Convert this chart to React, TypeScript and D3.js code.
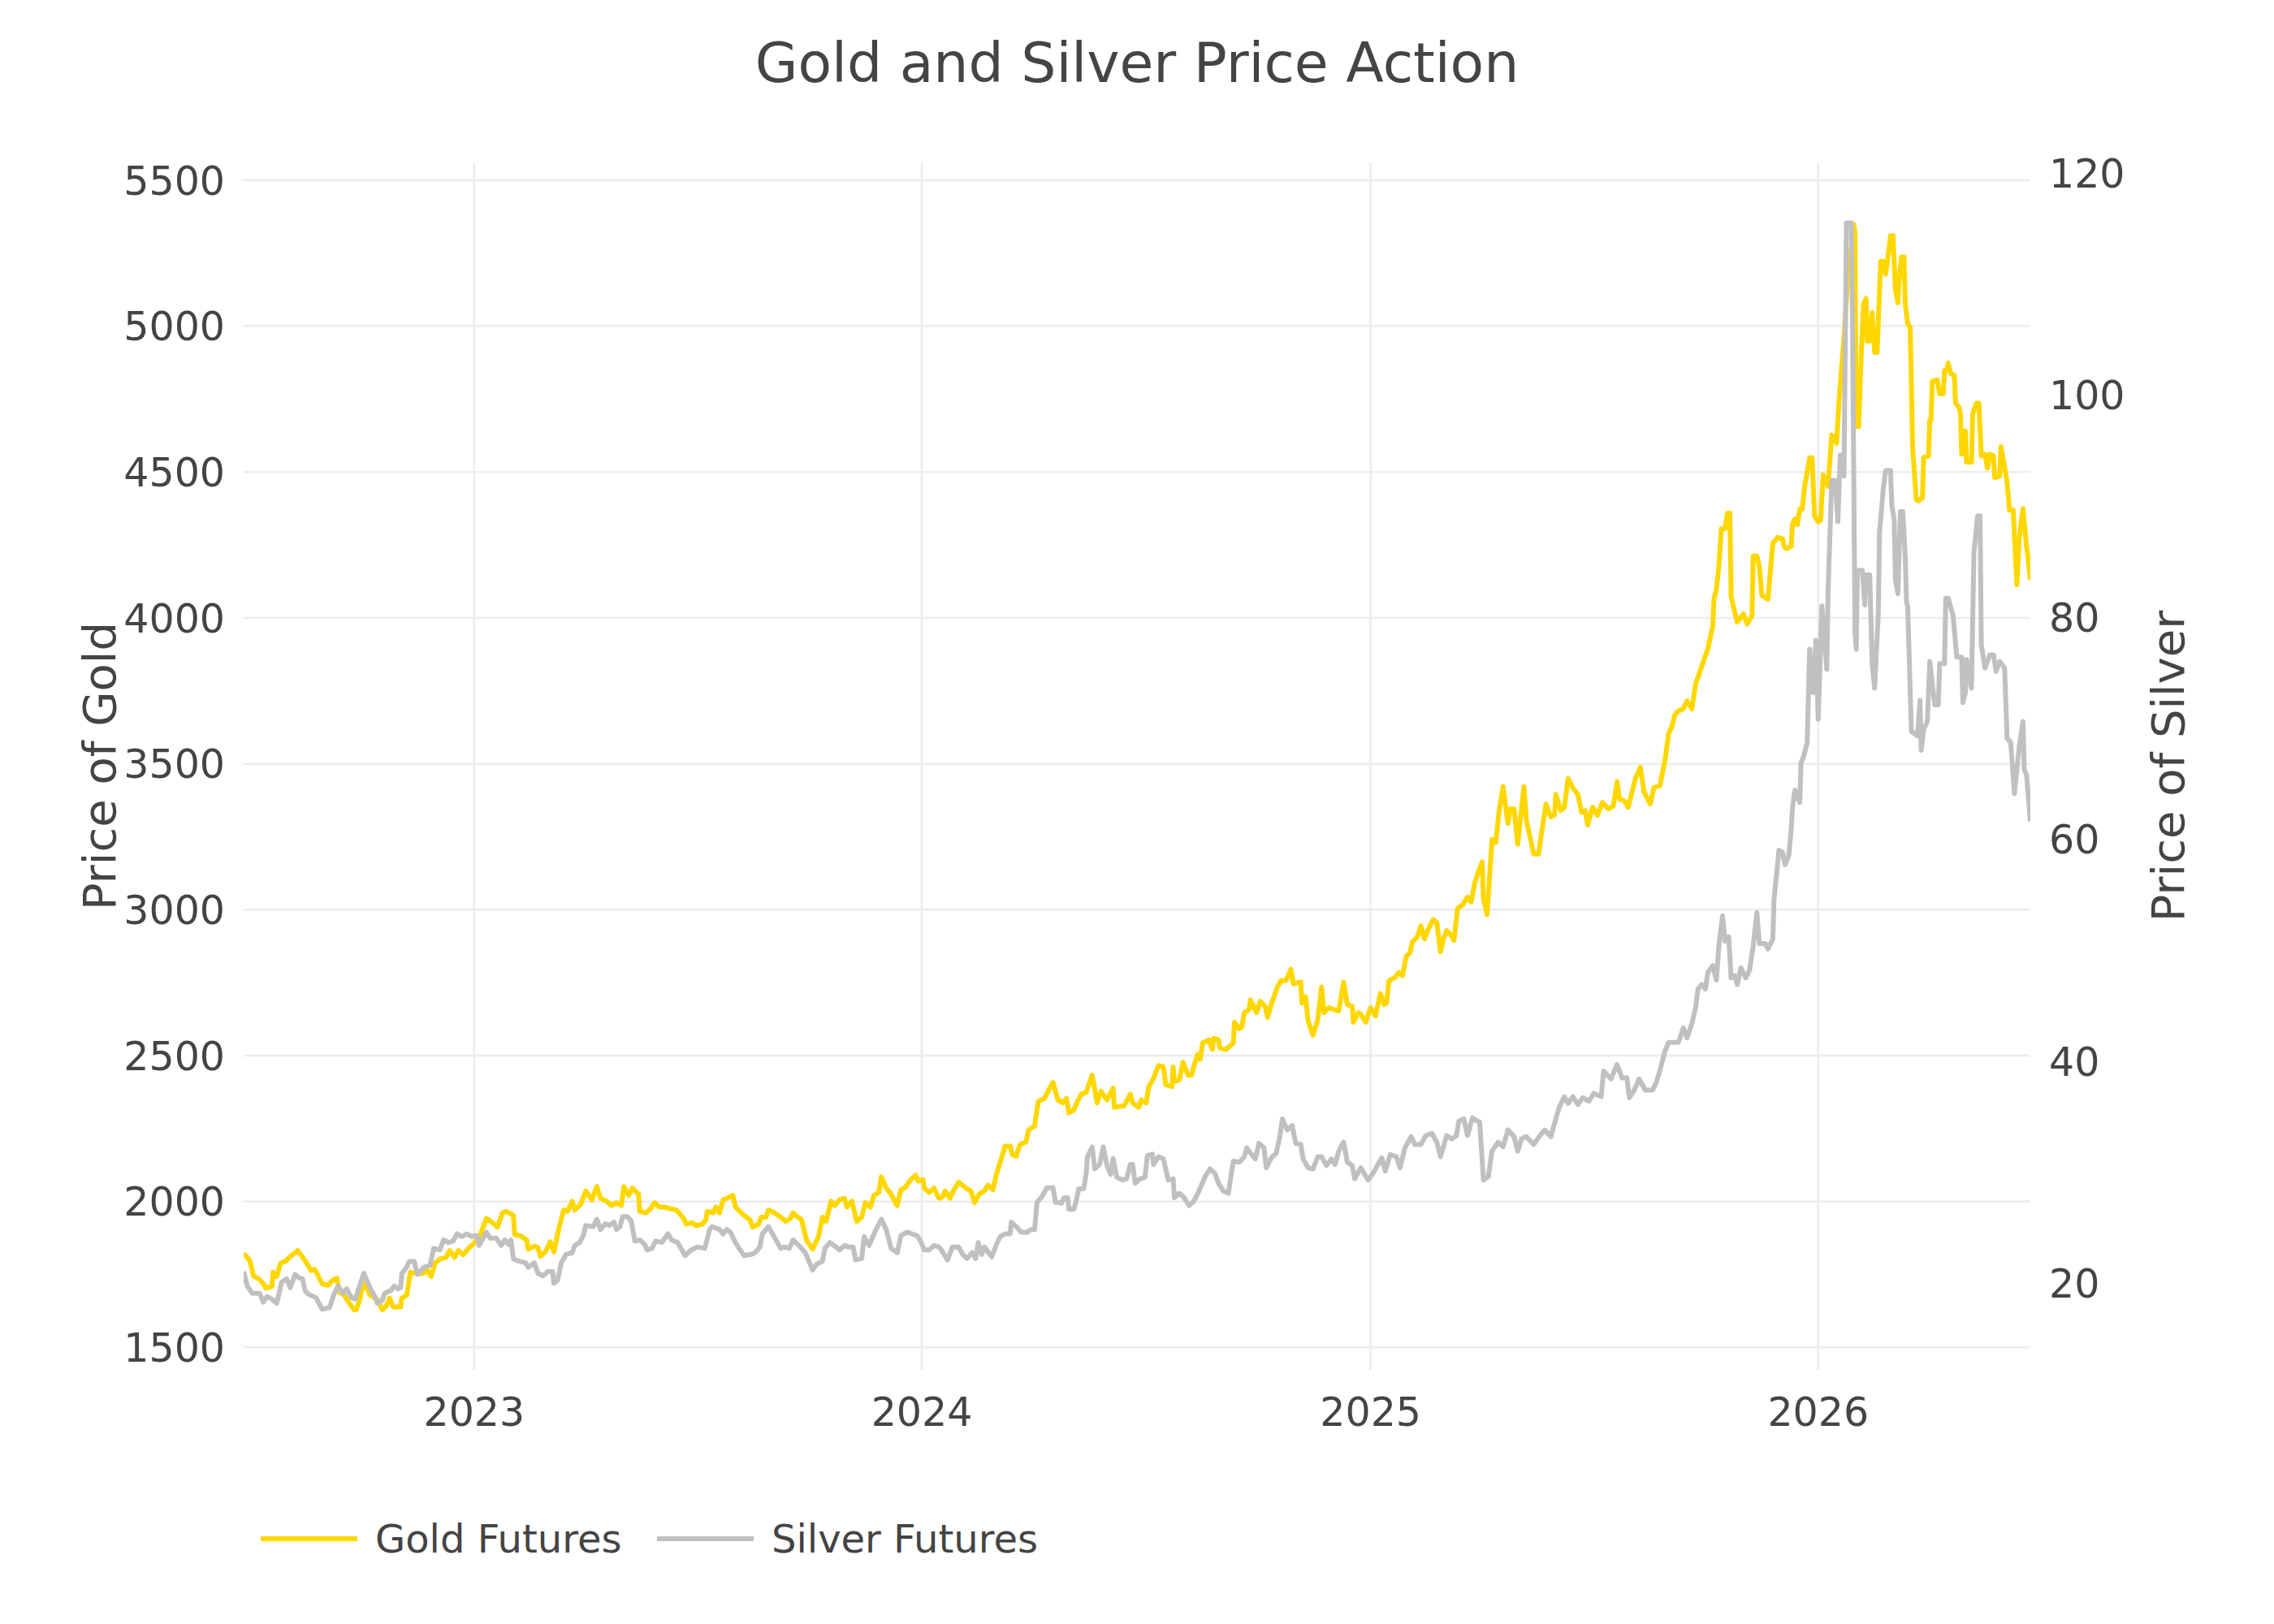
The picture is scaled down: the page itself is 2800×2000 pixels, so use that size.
import * as d3 from "d3";
import { useEffect } from "react";

const GOLD: [string, number][] = [
  ["2022-06-27", 1822], ["2022-07-02", 1798], ["2022-07-05", 1745], ["2022-07-10", 1733],
  ["2022-07-14", 1713], ["2022-07-15", 1703], ["2022-07-20", 1708], ["2022-07-21", 1758],
  ["2022-07-24", 1743], ["2022-07-27", 1788], ["2022-08-01", 1798], ["2022-08-03", 1808],
  ["2022-08-06", 1818], ["2022-08-10", 1832], ["2022-08-16", 1798], ["2022-08-21", 1763],
  ["2022-08-24", 1768], ["2022-08-27", 1743], ["2022-08-30", 1718], ["2022-09-04", 1713],
  ["2022-09-07", 1728], ["2022-09-11", 1738], ["2022-09-13", 1689], ["2022-09-17", 1679],
  ["2022-09-20", 1659], ["2022-09-25", 1629], ["2022-09-27", 1629], ["2022-09-30", 1669],
  ["2022-10-03", 1728], ["2022-10-08", 1679], ["2022-10-14", 1664], ["2022-10-18", 1629],
  ["2022-10-21", 1639], ["2022-10-24", 1669], ["2022-10-27", 1639], ["2022-11-02", 1639],
  ["2022-11-03", 1669], ["2022-11-07", 1679], ["2022-11-10", 1758], ["2022-11-15", 1753],
  ["2022-11-20", 1753], ["2022-11-24", 1763], ["2022-11-27", 1743], ["2022-11-30", 1788],
  ["2022-12-04", 1803], ["2022-12-09", 1808], ["2022-12-12", 1832], ["2022-12-16", 1808],
  ["2022-12-19", 1832], ["2022-12-23", 1818], ["2022-12-28", 1842], ["2023-01-01", 1857],
  ["2023-01-06", 1887], ["2023-01-11", 1942], ["2023-01-16", 1927], ["2023-01-20", 1912],
  ["2023-01-24", 1961], ["2023-01-27", 1966], ["2023-02-02", 1952], ["2023-02-03", 1887],
  ["2023-02-08", 1882], ["2023-02-13", 1867], ["2023-02-14", 1837], ["2023-02-19", 1847],
  ["2023-02-22", 1842], ["2023-02-24", 1812], ["2023-02-28", 1827], ["2023-03-04", 1862],
  ["2023-03-07", 1827], ["2023-03-11", 1907], ["2023-03-15", 1971], ["2023-03-18", 1966],
  ["2023-03-22", 2001], ["2023-03-24", 1971], ["2023-03-29", 1991], ["2023-04-02", 2036],
  ["2023-04-07", 2006], ["2023-04-11", 2051], ["2023-04-14", 2011], ["2023-04-19", 2001],
  ["2023-04-23", 1986], ["2023-04-27", 1996], ["2023-05-01", 1986], ["2023-05-03", 2051],
  ["2023-05-07", 2021], ["2023-05-10", 2046], ["2023-05-15", 2026], ["2023-05-16", 1966],
  ["2023-05-21", 1961], ["2023-05-25", 1976], ["2023-05-28", 1996], ["2023-06-01", 1981],
  ["2023-06-05", 1981], ["2023-06-09", 1976], ["2023-06-15", 1971], ["2023-06-21", 1941],
  ["2023-06-23", 1922], ["2023-06-28", 1927], ["2023-07-01", 1917], ["2023-07-06", 1922],
  ["2023-07-09", 1937], ["2023-07-10", 1966], ["2023-07-15", 1961], ["2023-07-17", 1981],
  ["2023-07-20", 1961], ["2023-07-23", 2006], ["2023-07-26", 2011], ["2023-07-31", 2021],
  ["2023-08-02", 1981], ["2023-08-08", 1956], ["2023-08-14", 1937], ["2023-08-16", 1912],
  ["2023-08-21", 1922], ["2023-08-23", 1946], ["2023-08-27", 1946], ["2023-08-29", 1971],
  ["2023-09-03", 1961], ["2023-09-08", 1946], ["2023-09-12", 1932], ["2023-09-16", 1942],
  ["2023-09-18", 1961], ["2023-09-22", 1946], ["2023-09-25", 1937], ["2023-09-29", 1867],
  ["2023-10-04", 1837], ["2023-10-09", 1882], ["2023-10-12", 1946], ["2023-10-15", 1932],
  ["2023-10-19", 2001], ["2023-10-22", 1986], ["2023-10-26", 2006], ["2023-10-30", 2011],
  ["2023-11-01", 1981], ["2023-11-05", 2001], ["2023-11-09", 1932], ["2023-11-13", 1946],
  ["2023-11-16", 1996], ["2023-11-20", 1981], ["2023-11-23", 2021], ["2023-11-27", 2031],
  ["2023-11-29", 2085], ["2023-12-03", 2046], ["2023-12-06", 2031], ["2023-12-12", 1986],
  ["2023-12-15", 2041], ["2023-12-18", 2046], ["2023-12-23", 2075], ["2023-12-27", 2090],
  ["2023-12-29", 2070], ["2024-01-02", 2075], ["2024-01-03", 2046], ["2024-01-07", 2031],
  ["2024-01-11", 2046], ["2024-01-15", 2011], ["2024-01-18", 2016], ["2024-01-20", 2036],
  ["2024-01-24", 2011], ["2024-01-26", 2031], ["2024-01-31", 2066], ["2024-02-06", 2046],
  ["2024-02-10", 2036], ["2024-02-13", 1996], ["2024-02-17", 2026], ["2024-02-21", 2036],
  ["2024-02-24", 2056], ["2024-02-28", 2041], ["2024-03-02", 2095], ["2024-03-05", 2135],
  ["2024-03-09", 2190], ["2024-03-13", 2190], ["2024-03-15", 2160], ["2024-03-18", 2155],
  ["2024-03-21", 2195], ["2024-03-26", 2204], ["2024-03-28", 2244], ["2024-04-02", 2259],
  ["2024-04-05", 2343], ["2024-04-10", 2353], ["2024-04-13", 2378], ["2024-04-17", 2408],
  ["2024-04-21", 2348], ["2024-04-25", 2338], ["2024-04-28", 2353], ["2024-04-30", 2304],
  ["2024-05-04", 2314], ["2024-05-07", 2343], ["2024-05-10", 2368], ["2024-05-14", 2373],
  ["2024-05-19", 2433], ["2024-05-23", 2338], ["2024-05-26", 2378], ["2024-05-31", 2348],
  ["2024-06-05", 2388], ["2024-06-06", 2323], ["2024-06-14", 2328], ["2024-06-19", 2368],
  ["2024-06-21", 2338], ["2024-06-26", 2323], ["2024-06-28", 2348], ["2024-07-02", 2338],
  ["2024-07-04", 2392], ["2024-07-08", 2422], ["2024-07-12", 2466], ["2024-07-16", 2461],
  ["2024-07-18", 2400], ["2024-07-23", 2394], ["2024-07-24", 2461], ["2024-07-25", 2411],
  ["2024-07-29", 2417], ["2024-08-01", 2477], ["2024-08-05", 2433], ["2024-08-08", 2433],
  ["2024-08-10", 2466], ["2024-08-13", 2504], ["2024-08-15", 2488], ["2024-08-17", 2543],
  ["2024-08-22", 2554], ["2024-08-25", 2521], ["2024-08-26", 2559], ["2024-08-30", 2554],
  ["2024-08-31", 2526], ["2024-09-05", 2521], ["2024-09-08", 2532], ["2024-09-11", 2543],
  ["2024-09-12", 2614], ["2024-09-16", 2592], ["2024-09-18", 2598], ["2024-09-20", 2647],
  ["2024-09-24", 2658], ["2024-09-25", 2691], ["2024-09-30", 2647], ["2024-10-03", 2686],
  ["2024-10-07", 2669], ["2024-10-09", 2631], ["2024-10-12", 2675], ["2024-10-17", 2735],
  ["2024-10-20", 2757], ["2024-10-24", 2757], ["2024-10-28", 2796], ["2024-10-30", 2746],
  ["2024-11-05", 2752], ["2024-11-06", 2680], ["2024-11-09", 2702], ["2024-11-11", 2620],
  ["2024-11-15", 2570], ["2024-11-19", 2625], ["2024-11-22", 2735], ["2024-11-24", 2647],
  ["2024-11-28", 2664], ["2024-12-02", 2658], ["2024-12-06", 2653], ["2024-12-10", 2752],
  ["2024-12-13", 2675], ["2024-12-17", 2669], ["2024-12-18", 2614], ["2024-12-22", 2647],
  ["2024-12-24", 2642], ["2024-12-28", 2614], ["2025-01-01", 2664], ["2025-01-05", 2636],
  ["2025-01-09", 2713], ["2025-01-12", 2675], ["2025-01-14", 2680], ["2025-01-16", 2757],
  ["2025-01-21", 2768], ["2025-01-24", 2785], ["2025-01-27", 2774], ["2025-01-30", 2840],
  ["2025-02-02", 2851], ["2025-02-04", 2889], ["2025-02-08", 2906], ["2025-02-11", 2944],
  ["2025-02-14", 2900], ["2025-02-17", 2933], ["2025-02-21", 2966], ["2025-02-24", 2955],
  ["2025-02-27", 2856], ["2025-03-01", 2895], ["2025-03-04", 2928], ["2025-03-08", 2911],
  ["2025-03-10", 2895], ["2025-03-13", 3005], ["2025-03-17", 3016], ["2025-03-21", 3043],
  ["2025-03-24", 3027], ["2025-03-27", 3093], ["2025-03-30", 3131], ["2025-04-02", 3164],
  ["2025-04-03", 3038], ["2025-04-06", 2983], ["2025-04-10", 3241], ["2025-04-13", 3230],
  ["2025-04-16", 3345], ["2025-04-19", 3422], ["2025-04-23", 3296], ["2025-04-25", 3345],
  ["2025-04-28", 3345], ["2025-05-01", 3224], ["2025-05-06", 3422], ["2025-05-08", 3307],
  ["2025-05-14", 3191], ["2025-05-18", 3191], ["2025-05-20", 3252], ["2025-05-24", 3362],
  ["2025-05-28", 3318], ["2025-05-31", 3324], ["2025-06-01", 3395], ["2025-06-05", 3340],
  ["2025-06-08", 3351], ["2025-06-11", 3450], ["2025-06-15", 3417], ["2025-06-19", 3395],
  ["2025-06-22", 3334], ["2025-06-25", 3340], ["2025-06-27", 3290], ["2025-07-01", 3351],
  ["2025-07-05", 3324], ["2025-07-09", 3367], ["2025-07-14", 3345], ["2025-07-18", 3356],
  ["2025-07-21", 3439], ["2025-07-23", 3379], ["2025-07-27", 3373], ["2025-07-30", 3351],
  ["2025-08-02", 3400], ["2025-08-05", 3450], ["2025-08-09", 3488], ["2025-08-12", 3404],
  ["2025-08-17", 3362], ["2025-08-20", 3418], ["2025-08-25", 3426], ["2025-08-29", 3511],
  ["2025-09-01", 3603], ["2025-09-04", 3631], ["2025-09-06", 3667], ["2025-09-09", 3681],
  ["2025-09-13", 3688], ["2025-09-16", 3716], ["2025-09-20", 3688], ["2025-09-23", 3773],
  ["2025-09-26", 3809], ["2025-09-30", 3858], ["2025-10-03", 3894], ["2025-10-07", 3972],
  ["2025-10-08", 4064], ["2025-10-10", 4100], ["2025-10-12", 4178], ["2025-10-14", 4305],
  ["2025-10-17", 4305], ["2025-10-19", 4359], ["2025-10-21", 4359], ["2025-10-22", 4071],
  ["2025-10-27", 3986], ["2025-11-01", 4014], ["2025-11-04", 3979], ["2025-11-08", 4007],
  ["2025-11-09", 4212], ["2025-11-12", 4212], ["2025-11-14", 4178], ["2025-11-16", 4078],
  ["2025-11-21", 4064], ["2025-11-25", 4256], ["2025-11-29", 4276], ["2025-12-03", 4271],
  ["2025-12-04", 4246], ["2025-12-06", 4237], ["2025-12-10", 4246], ["2025-12-11", 4324],
  ["2025-12-13", 4339], ["2025-12-15", 4320], ["2025-12-17", 4373], ["2025-12-19", 4373],
  ["2025-12-21", 4451], ["2025-12-25", 4549], ["2025-12-27", 4549], ["2025-12-29", 4349],
  ["2026-01-01", 4329], ["2026-01-03", 4334], ["2026-01-05", 4490], ["2026-01-09", 4451],
  ["2026-01-12", 4627], ["2026-01-16", 4598], ["2026-01-18", 4744], ["2026-01-22", 4959],
  ["2026-01-25", 5154], ["2026-01-30", 5349], ["2026-01-31", 5320], ["2026-02-01", 4656],
  ["2026-02-03", 4656], ["2026-02-05", 4890], ["2026-02-07", 5076], ["2026-02-09", 5095],
  ["2026-02-10", 4949], ["2026-02-12", 4949], ["2026-02-14", 5046], ["2026-02-16", 4910],
  ["2026-02-18", 4910], ["2026-02-21", 5222], ["2026-02-23", 5222], ["2026-02-25", 5178],
  ["2026-02-27", 5241], ["2026-03-01", 5310], ["2026-03-03", 5310], ["2026-03-05", 5124],
  ["2026-03-07", 5080], ["2026-03-08", 5158], ["2026-03-10", 5237], ["2026-03-12", 5237],
  ["2026-03-13", 5076], ["2026-03-15", 5007], ["2026-03-17", 4997], ["2026-03-18", 4795],
  ["2026-03-19", 4582], ["2026-03-22", 4406], ["2026-03-24", 4401], ["2026-03-27", 4412],
  ["2026-03-28", 4550], ["2026-04-01", 4555], ["2026-04-02", 4678], ["2026-04-03", 4678],
  ["2026-04-04", 4811], ["2026-04-08", 4816], ["2026-04-10", 4768], ["2026-04-13", 4768],
  ["2026-04-14", 4848], ["2026-04-16", 4848], ["2026-04-17", 4874], ["2026-04-19", 4837],
  ["2026-04-22", 4832], ["2026-04-23", 4736], ["2026-04-26", 4720], ["2026-04-27", 4699],
  ["2026-04-28", 4561], ["2026-05-01", 4641], ["2026-05-02", 4534], ["2026-05-06", 4534],
  ["2026-05-07", 4699], ["2026-05-10", 4736], ["2026-05-12", 4736], ["2026-05-14", 4555],
  ["2026-05-17", 4561], ["2026-05-19", 4513], ["2026-05-21", 4561], ["2026-05-24", 4555],
  ["2026-05-25", 4481], ["2026-05-29", 4486], ["2026-05-30", 4587], ["2026-06-02", 4518],
  ["2026-06-04", 4465], ["2026-06-06", 4369], ["2026-06-09", 4369], ["2026-06-12", 4114],
  ["2026-06-14", 4274], ["2026-06-17", 4375], ["2026-06-20", 4241], ["2026-06-21", 4210],
  ["2026-06-23", 4130],
];

const SILVER: [string, number][] = [
  ["2022-06-27", 21.05], ["2022-06-30", 19.75], ["2022-07-04", 19.1], ["2022-07-10", 19.1],
  ["2022-07-13", 18.3], ["2022-07-16", 18.8], ["2022-07-20", 18.57], ["2022-07-24", 18.2],
  ["2022-07-28", 20.1], ["2022-08-01", 20.4], ["2022-08-04", 19.6], ["2022-08-08", 20.8],
  ["2022-08-11", 20.5], ["2022-08-14", 20.4], ["2022-08-16", 19.35], ["2022-08-19", 19.0],
  ["2022-08-25", 18.7], ["2022-08-30", 17.66], ["2022-09-05", 17.8], ["2022-09-09", 19.1],
  ["2022-09-12", 19.75], ["2022-09-16", 19.1], ["2022-09-19", 19.5], ["2022-09-23", 18.7],
  ["2022-09-26", 18.57], ["2022-09-30", 19.9], ["2022-10-03", 20.9], ["2022-10-08", 19.6],
  ["2022-10-12", 18.8], ["2022-10-14", 18.2], ["2022-10-18", 18.45], ["2022-10-20", 19.1],
  ["2022-10-25", 19.35], ["2022-10-28", 19.75], ["2022-10-31", 19.5], ["2022-11-02", 19.6],
  ["2022-11-03", 20.9], ["2022-11-07", 21.45], ["2022-11-09", 21.97], ["2022-11-13", 21.97],
  ["2022-11-16", 20.8], ["2022-11-21", 21.45], ["2022-11-26", 21.6], ["2022-11-29", 23.14],
  ["2022-12-04", 23.0], ["2022-12-07", 23.9], ["2022-12-11", 23.67], ["2022-12-15", 23.8],
  ["2022-12-18", 24.45], ["2022-12-22", 24.2], ["2022-12-26", 24.45], ["2022-12-30", 24.2],
  ["2023-01-03", 24.3], ["2023-01-05", 23.4], ["2023-01-11", 24.6], ["2023-01-14", 24.06],
  ["2023-01-19", 24.06], ["2023-01-23", 23.4], ["2023-01-26", 23.9], ["2023-01-29", 23.5],
  ["2023-01-31", 23.9], ["2023-02-02", 22.2], ["2023-02-07", 21.97], ["2023-02-12", 21.84],
  ["2023-02-14", 21.45], ["2023-02-19", 21.84], ["2023-02-22", 20.9], ["2023-02-26", 20.66],
  ["2023-03-02", 21.05], ["2023-03-06", 21.05], ["2023-03-07", 20.0], ["2023-03-10", 20.27],
  ["2023-03-13", 21.84], ["2023-03-17", 22.6], ["2023-03-22", 22.75], ["2023-03-24", 23.4],
  ["2023-03-28", 23.67], ["2023-03-31", 24.3], ["2023-04-02", 25.2], ["2023-04-08", 25.1],
  ["2023-04-11", 25.76], ["2023-04-14", 24.84], ["2023-04-18", 25.36], ["2023-04-21", 25.2],
  ["2023-04-25", 25.5], ["2023-04-27", 24.84], ["2023-04-30", 25.1], ["2023-05-02", 26.0],
  ["2023-05-06", 26.0], ["2023-05-09", 25.6], ["2023-05-12", 23.8], ["2023-05-16", 23.9],
  ["2023-05-20", 23.5], ["2023-05-22", 23.0], ["2023-05-26", 23.14], ["2023-05-29", 23.8],
  ["2023-06-03", 23.67], ["2023-06-08", 24.45], ["2023-06-11", 23.9], ["2023-06-16", 23.67],
  ["2023-06-20", 22.88], ["2023-06-22", 22.5], ["2023-06-27", 23.0], ["2023-07-02", 23.27],
  ["2023-07-08", 23.14], ["2023-07-12", 24.84], ["2023-07-14", 25.1], ["2023-07-20", 24.84],
  ["2023-07-23", 24.45], ["2023-07-26", 24.84], ["2023-07-29", 24.6], ["2023-08-02", 23.67],
  ["2023-08-05", 23.14], ["2023-08-09", 22.5], ["2023-08-15", 22.6], ["2023-08-18", 22.75],
  ["2023-08-22", 23.27], ["2023-08-24", 24.45], ["2023-08-29", 25.1], ["2023-09-02", 24.3],
  ["2023-09-08", 23.14], ["2023-09-11", 23.27], ["2023-09-15", 23.14], ["2023-09-18", 23.9],
  ["2023-09-24", 23.27], ["2023-09-28", 22.75], ["2023-10-04", 21.19], ["2023-10-07", 21.7],
  ["2023-10-12", 21.97], ["2023-10-14", 23.14], ["2023-10-18", 23.67], ["2023-10-23", 23.27],
  ["2023-10-26", 23.0], ["2023-10-30", 23.4], ["2023-11-02", 23.27], ["2023-11-06", 23.27],
  ["2023-11-08", 22.1], ["2023-11-13", 22.23], ["2023-11-15", 24.2], ["2023-11-19", 23.4],
  ["2023-11-23", 24.45], ["2023-11-29", 25.76], ["2023-12-03", 24.84], ["2023-12-07", 23.14],
  ["2023-12-12", 22.75], ["2023-12-15", 24.3], ["2023-12-20", 24.6], ["2023-12-24", 24.45],
  ["2023-12-28", 24.3], ["2023-12-31", 23.8], ["2024-01-03", 23.0], ["2024-01-07", 23.0],
  ["2024-01-11", 23.4], ["2024-01-15", 23.27], ["2024-01-17", 23.0], ["2024-01-22", 22.1],
  ["2024-01-26", 23.27], ["2024-01-31", 23.27], ["2024-02-04", 22.5], ["2024-02-07", 22.23],
  ["2024-02-11", 22.75], ["2024-02-14", 22.23], ["2024-02-16", 23.67], ["2024-02-19", 22.6],
  ["2024-02-21", 23.27], ["2024-02-27", 22.36], ["2024-03-02", 23.54], ["2024-03-05", 24.2],
  ["2024-03-09", 24.45], ["2024-03-13", 24.45], ["2024-03-14", 25.5], ["2024-03-18", 25.1],
  ["2024-03-22", 24.6], ["2024-03-27", 24.6], ["2024-03-30", 24.84], ["2024-04-02", 24.84],
  ["2024-04-04", 27.3], ["2024-04-08", 27.8], ["2024-04-12", 28.6], ["2024-04-17", 28.6],
  ["2024-04-19", 27.3], ["2024-04-24", 27.2], ["2024-04-26", 27.7], ["2024-04-29", 27.7],
  ["2024-04-30", 26.67], ["2024-05-04", 26.67], ["2024-05-06", 27.45], ["2024-05-08", 28.5],
  ["2024-05-12", 28.5], ["2024-05-14", 29.8], ["2024-05-15", 31.37], ["2024-05-19", 32.28],
  ["2024-05-21", 30.3], ["2024-05-25", 30.7], ["2024-05-28", 32.28], ["2024-05-31", 30.6],
  ["2024-06-03", 29.8], ["2024-06-05", 31.24], ["2024-06-08", 29.54], ["2024-06-13", 29.3],
  ["2024-06-16", 29.4], ["2024-06-19", 30.7], ["2024-06-21", 30.7], ["2024-06-23", 29.0],
  ["2024-06-27", 29.4], ["2024-07-01", 29.54], ["2024-07-03", 31.5], ["2024-07-07", 31.63],
  ["2024-07-08", 30.7], ["2024-07-12", 31.4], ["2024-07-16", 31.2], ["2024-07-20", 29.3],
  ["2024-07-24", 29.4], ["2024-07-25", 27.7], ["2024-07-29", 28.1], ["2024-08-02", 27.7],
  ["2024-08-06", 27.0], ["2024-08-10", 27.4], ["2024-08-14", 28.3], ["2024-08-19", 29.6],
  ["2024-08-23", 30.3], ["2024-08-27", 29.9], ["2024-08-30", 29.0], ["2024-09-03", 28.3],
  ["2024-09-07", 28.1], ["2024-09-11", 31.0], ["2024-09-16", 30.9], ["2024-09-20", 31.4],
  ["2024-09-22", 32.2], ["2024-09-26", 31.6], ["2024-09-29", 31.2], ["2024-10-02", 32.6],
  ["2024-10-06", 32.2], ["2024-10-08", 30.4], ["2024-10-12", 31.3], ["2024-10-16", 31.7],
  ["2024-10-19", 33.2], ["2024-10-21", 34.8], ["2024-10-25", 33.8], ["2024-10-29", 34.2],
  ["2024-11-01", 32.6], ["2024-11-05", 32.5], ["2024-11-07", 31.2], ["2024-11-11", 30.4],
  ["2024-11-15", 30.3], ["2024-11-19", 31.4], ["2024-11-22", 31.4], ["2024-11-26", 30.6],
  ["2024-11-30", 31.2], ["2024-12-03", 30.7], ["2024-12-06", 31.9], ["2024-12-10", 32.7],
  ["2024-12-13", 30.9], ["2024-12-17", 30.6], ["2024-12-19", 29.4], ["2024-12-24", 30.4],
  ["2024-12-30", 29.3], ["2025-01-03", 29.9], ["2025-01-08", 30.9], ["2025-01-10", 31.3],
  ["2025-01-13", 30.1], ["2025-01-17", 31.6], ["2025-01-22", 31.4], ["2025-01-25", 30.4],
  ["2025-01-29", 32.2], ["2025-02-03", 33.2], ["2025-02-06", 32.5], ["2025-02-11", 32.5],
  ["2025-02-15", 33.3], ["2025-02-20", 33.5], ["2025-02-24", 32.7], ["2025-02-27", 31.4],
  ["2025-03-04", 33.3], ["2025-03-08", 33.0], ["2025-03-12", 33.3], ["2025-03-14", 34.6],
  ["2025-03-18", 34.8], ["2025-03-21", 33.3], ["2025-03-25", 34.9], ["2025-03-29", 34.6],
  ["2025-03-31", 34.5], ["2025-04-03", 29.3], ["2025-04-07", 29.6], ["2025-04-10", 31.9],
  ["2025-04-15", 32.7], ["2025-04-19", 32.3], ["2025-04-23", 33.8], ["2025-04-28", 33.2],
  ["2025-05-01", 31.9], ["2025-05-04", 33.0], ["2025-05-08", 33.2], ["2025-05-14", 32.5],
  ["2025-05-19", 33.3], ["2025-05-23", 33.8], ["2025-05-28", 33.2], ["2025-06-01", 34.8],
  ["2025-06-04", 35.9], ["2025-06-08", 36.8], ["2025-06-11", 36.2], ["2025-06-15", 36.8],
  ["2025-06-19", 36.1], ["2025-06-23", 36.7], ["2025-06-28", 36.4], ["2025-07-02", 37.1],
  ["2025-07-08", 36.8], ["2025-07-10", 39.1], ["2025-07-16", 38.4], ["2025-07-21", 39.7],
  ["2025-07-25", 38.5], ["2025-07-29", 38.5], ["2025-07-31", 36.7], ["2025-08-04", 37.4],
  ["2025-08-08", 38.4], ["2025-08-13", 37.4], ["2025-08-19", 37.4], ["2025-08-22", 38.1],
  ["2025-08-25", 39.2], ["2025-08-29", 40.9], ["2025-09-01", 41.7], ["2025-09-09", 41.7],
  ["2025-09-13", 43.0], ["2025-09-16", 42.1], ["2025-09-20", 43.4], ["2025-09-23", 44.8],
  ["2025-09-25", 46.5], ["2025-09-28", 46.9], ["2025-10-01", 46.5], ["2025-10-03", 48.0],
  ["2025-10-07", 48.6], ["2025-10-10", 47.3], ["2025-10-12", 50.4], ["2025-10-15", 53.1],
  ["2025-10-17", 50.8], ["2025-10-20", 51.2], ["2025-10-22", 47.5], ["2025-10-25", 47.7],
  ["2025-10-27", 46.9], ["2025-10-30", 48.4], ["2025-11-03", 47.5], ["2025-11-06", 48.2],
  ["2025-11-09", 50.4], ["2025-11-12", 53.4], ["2025-11-14", 50.6], ["2025-11-19", 50.6],
  ["2025-11-21", 50.1], ["2025-11-25", 51.0], ["2025-11-26", 54.6], ["2025-11-30", 59.0],
  ["2025-12-03", 58.8], ["2025-12-05", 57.7], ["2025-12-08", 58.5], ["2025-12-10", 60.9],
  ["2025-12-11", 62.8], ["2025-12-13", 64.4], ["2025-12-17", 63.3], ["2025-12-18", 66.9],
  ["2025-12-20", 67.4], ["2025-12-23", 68.7], ["2025-12-25", 77.1], ["2025-12-28", 73.2],
  ["2025-12-30", 77.9], ["2026-01-01", 70.8], ["2026-01-04", 81.0], ["2026-01-08", 75.3],
  ["2026-01-09", 82.2], ["2026-01-12", 92.3], ["2026-01-15", 92.3], ["2026-01-17", 88.6],
  ["2026-01-19", 94.6], ["2026-01-22", 92.7], ["2026-01-23", 104.1], ["2026-01-24", 115.5],
  ["2026-01-28", 115.5], ["2026-01-29", 106.7], ["2026-01-31", 78.6], ["2026-02-01", 77.1],
  ["2026-02-02", 84.2], ["2026-02-06", 84.2], ["2026-02-08", 81.1], ["2026-02-09", 83.8],
  ["2026-02-12", 83.8], ["2026-02-14", 75.8], ["2026-02-16", 73.6], ["2026-02-19", 80.3],
  ["2026-02-20", 87.6], ["2026-02-23", 91.5], ["2026-02-25", 93.2], ["2026-03-01", 93.2],
  ["2026-03-02", 90.1], ["2026-03-04", 88.7], ["2026-03-05", 83.3], ["2026-03-07", 82.1],
  ["2026-03-09", 89.5], ["2026-03-11", 89.5], ["2026-03-13", 85.3], ["2026-03-14", 81.4],
  ["2026-03-15", 80.9], ["2026-03-18", 69.7], ["2026-03-23", 69.3], ["2026-03-25", 72.5],
  ["2026-03-26", 68.0], ["2026-03-28", 69.9], ["2026-03-31", 70.6], ["2026-04-02", 76.0],
  ["2026-04-06", 72.1], ["2026-04-09", 72.1], ["2026-04-10", 75.8], ["2026-04-14", 75.8],
  ["2026-04-15", 81.7], ["2026-04-17", 81.7], ["2026-04-21", 80.1], ["2026-04-24", 76.4],
  ["2026-04-28", 76.4], ["2026-04-29", 72.3], ["2026-05-01", 73.2], ["2026-05-02", 76.2],
  ["2026-05-06", 73.6], ["2026-05-08", 85.9], ["2026-05-11", 89.1], ["2026-05-13", 89.1],
  ["2026-05-14", 77.5], ["2026-05-17", 75.4], ["2026-05-21", 76.6], ["2026-05-24", 76.6],
  ["2026-05-26", 75.1], ["2026-05-29", 76.0], ["2026-06-02", 75.4], ["2026-06-04", 69.1],
  ["2026-06-07", 68.7], ["2026-06-10", 64.1], ["2026-06-14", 68.4], ["2026-06-17", 70.6],
  ["2026-06-18", 66.3], ["2026-06-20", 65.7], ["2026-06-23", 61.6],
];

const GOLD_TICKS = [1500, 2000, 2500, 3000, 3500, 4000, 4500, 5000, 5500];
const SILVER_TICKS = [20, 40, 60, 80, 100, 120];
const YEAR_TICKS = ["2023-01-01", "2024-01-01", "2025-01-01", "2026-01-01"];
const GOLD_RANGE: [number, number] = [1423, 5561];
const SILVER_RANGE: [number, number] = [12.2, 120.95];

const W = 2800;
const H = 2000;
const M = { left: 300, right: 2500, top: 200, bottom: 1687 };
const FONT = "'DejaVu Sans', Verdana, sans-serif";
const TEXT = "#444444";
const GRID = "#ececec";
const GOLD_COLOR = "#FFD700";
const SILVER_COLOR = "#C0C0C0";

export default function App() {
  useEffect(() => {
    document.body.style.margin = "0";
  }, []);

  const parse = d3.utcParse("%Y-%m-%d");
  const gold = GOLD.map(([d, v]) => ({ date: parse(d)!, v }));
  const silver = SILVER.map(([d, v]) => ({ date: parse(d)!, v }));

  const x = d3
    .scaleUtc()
    .domain(d3.extent([...gold, ...silver], (p) => p.date) as [Date, Date])
    .range([M.left, M.right]);
  const yGold = d3.scaleLinear().domain(GOLD_RANGE).range([M.bottom, M.top]);
  const ySilver = d3.scaleLinear().domain(SILVER_RANGE).range([M.bottom, M.top]);

  const goldLine = d3
    .line<{ date: Date; v: number }>()
    .x((p) => x(p.date))
    .y((p) => yGold(p.v));
  const silverLine = d3
    .line<{ date: Date; v: number }>()
    .x((p) => x(p.date))
    .y((p) => ySilver(p.v));

  const fs = 49;

  return (
    <svg
      width={W}
      height={H}
      style={{ position: "absolute", left: 0, top: 0, background: "#fff" }}
      fontFamily={FONT}
    >
      <defs>
        <clipPath id="plot">
          <rect x={M.left} y={M.top} width={M.right - M.left} height={M.bottom - M.top} />
        </clipPath>
      </defs>
      <rect width={W} height={H} fill="#fff" />

      {/* grid */}
      {YEAR_TICKS.map((t) => (
        <line
          key={t}
          x1={x(parse(t)!)}
          x2={x(parse(t)!)}
          y1={M.top}
          y2={M.bottom}
          stroke={GRID}
          strokeWidth={2.5}
        />
      ))}
      {GOLD_TICKS.map((t) => (
        <line
          key={t}
          x1={M.left}
          x2={M.right}
          y1={yGold(t)}
          y2={yGold(t)}
          stroke={GRID}
          strokeWidth={2.5}
        />
      ))}

      {/* lines */}
      <g clipPath="url(#plot)" fill="none" strokeWidth={6} strokeLinejoin="round">
        <path d={goldLine(gold)!} stroke={GOLD_COLOR} />
        <path d={silverLine(silver)!} stroke={SILVER_COLOR} />
      </g>

      {/* left axis */}
      {GOLD_TICKS.map((t) => (
        <text key={t} x={277} y={yGold(t) + fs * 0.36} textAnchor="end" fontSize={fs} fill={TEXT}>
          {t}
        </text>
      ))}
      {/* right axis */}
      {SILVER_TICKS.map((t) => (
        <text key={t} x={2523} y={ySilver(t) + fs * 0.36} textAnchor="start" fontSize={fs} fill={TEXT}>
          {t}
        </text>
      ))}
      {/* x axis */}
      {YEAR_TICKS.map((t) => (
        <text key={t} x={x(parse(t)!)} y={1756} textAnchor="middle" fontSize={fs} fill={TEXT}>
          {t.slice(0, 4)}
        </text>
      ))}

      {/* axis titles */}
      <text
        transform={`translate(142, ${(M.top + M.bottom) / 2}) rotate(-90)`}
        textAnchor="middle"
        fontSize={56}
        fill={TEXT}
      >
        Price of Gold
      </text>
      <text
        transform={`translate(2689, ${(M.top + M.bottom) / 2}) rotate(-90)`}
        textAnchor="middle"
        fontSize={56}
        fill={TEXT}
      >
        Price of Silver
      </text>

      {/* title */}
      <text x={1400} y={101} textAnchor="middle" fontSize={68} fill={TEXT}>
        Gold and Silver Price Action
      </text>

      {/* legend */}
      <line x1={321} x2={440} y1={1895} y2={1895} stroke={GOLD_COLOR} strokeWidth={6} />
      <text x={462} y={1895 + 48 * 0.36} fontSize={48} fill={TEXT}>
        Gold Futures
      </text>
      <line x1={809} x2={928} y1={1895} y2={1895} stroke={SILVER_COLOR} strokeWidth={6} />
      <text x={950} y={1895 + 48 * 0.36} fontSize={48} fill={TEXT}>
        Silver Futures
      </text>
    </svg>
  );
}
